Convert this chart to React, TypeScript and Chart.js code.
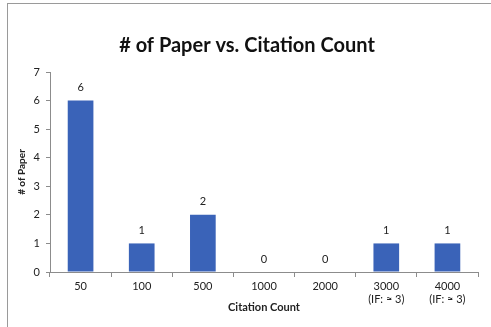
import React, { useEffect, useRef } from "react";
import { Chart, registerables } from "chart.js";

Chart.register(...registerables);

const categories: (string | string[])[] = [
  "50",
  "100",
  "500",
  "1000",
  "2000",
  ["3000", "(IF: \u2248 3)"],
  ["4000", "(IF: \u2248 3)"],
];
const paperCounts: number[] = [6, 1, 2, 0, 0, 1, 1];
const yTicks: number[] = [0, 1, 2, 3, 4, 5, 6, 7];

const FONT = "Lato, 'Open Sans', sans-serif";
const TEXT = "#222";
const AXIS = "#8c8c8c";
const BAR = "#3a63b8";

// Writes each bar's value just above it, zeros included
const valueLabels = {
  id: "valueLabels",
  afterDatasetsDraw(chart: any) {
    const { ctx } = chart;
    const meta = chart.getDatasetMeta(0);
    ctx.save();
    ctx.font = `11px ${FONT}`;
    ctx.fillStyle = TEXT;
    ctx.textAlign = "center";
    ctx.textBaseline = "middle";
    meta.data.forEach((bar: any, i: number) => {
      ctx.fillText(String(paperCounts[i]), bar.x, bar.y - 13);
    });
    ctx.restore();
  },
};

export default function App() {
  const canvasRef = useRef<HTMLCanvasElement | null>(null);

  useEffect(() => {
    if (!canvasRef.current) return;
    const chart = new Chart(canvasRef.current, {
      type: "bar",
      data: {
        labels: categories,
        datasets: [
          {
            data: paperCounts,
            backgroundColor: BAR,
            borderWidth: 0,
            barPercentage: 0.42,
            categoryPercentage: 1,
          },
        ],
      },
      plugins: [valueLabels],
      options: {
        animation: false,
        responsive: false,
        maintainAspectRatio: false,
        layout: { padding: { left: 16, right: 13, top: 0, bottom: 13 } },
        plugins: {
          legend: { display: false },
          tooltip: { enabled: false },
          title: {
            display: true,
            text: "# of Paper vs. Citation Count",
            color: "#111",
            font: { family: FONT, size: 20, weight: "bold" },
            padding: { top: 34, bottom: 14 },
          },
        },
        scales: {
          x: {
            grid: {
              display: true,
              drawOnChartArea: false,
              drawTicks: true,
              tickLength: 5,
              color: AXIS,
            },
            border: { display: true, color: AXIS },
            ticks: {
              color: TEXT,
              font: { family: FONT, size: 11 },
              padding: 3,
              maxRotation: 0,
            },
            title: {
              display: true,
              text: "Citation Count",
              color: TEXT,
              font: { family: FONT, size: 11, weight: "bold" },
              padding: { top: 0, bottom: 0 },
            },
            afterFit(scale: any) {
              scale.height = 42;
            },
          },
          y: {
            min: 0,
            max: 7,
            afterBuildTicks(scale: any) {
              scale.ticks = yTicks.map((v) => ({ value: v }));
            },
            grid: {
              display: true,
              drawOnChartArea: false,
              drawTicks: true,
              tickLength: 4,
              color: AXIS,
            },
            border: { display: true, color: AXIS },
            ticks: {
              color: TEXT,
              font: { family: FONT, size: 11 },
              padding: 6,
            },
            title: {
              display: true,
              text: "# of Paper",
              color: TEXT,
              font: { family: FONT, size: 10, weight: "bold" },
              padding: { top: 0, bottom: 2 },
            },
            afterFit(scale: any) {
              scale.width = 34;
            },
          },
        },
      },
    });
    return () => chart.destroy();
  }, []);

  return (
    <div
      style={{
        position: "fixed",
        left: 0,
        top: 0,
        width: 491,
        height: 327,
        background: "#fff",
      }}
    >
      <div
        style={{
          position: "absolute",
          left: 7,
          top: 3,
          width: 484,
          height: 324,
          borderTop: "1px solid #9a9a9a",
          borderLeft: "1px solid #9a9a9a",
          boxSizing: "border-box",
        }}
      />
      <canvas
        ref={canvasRef}
        width={491}
        height={327}
        style={{ position: "absolute", left: 0, top: 0 }}
      />
    </div>
  );
}
